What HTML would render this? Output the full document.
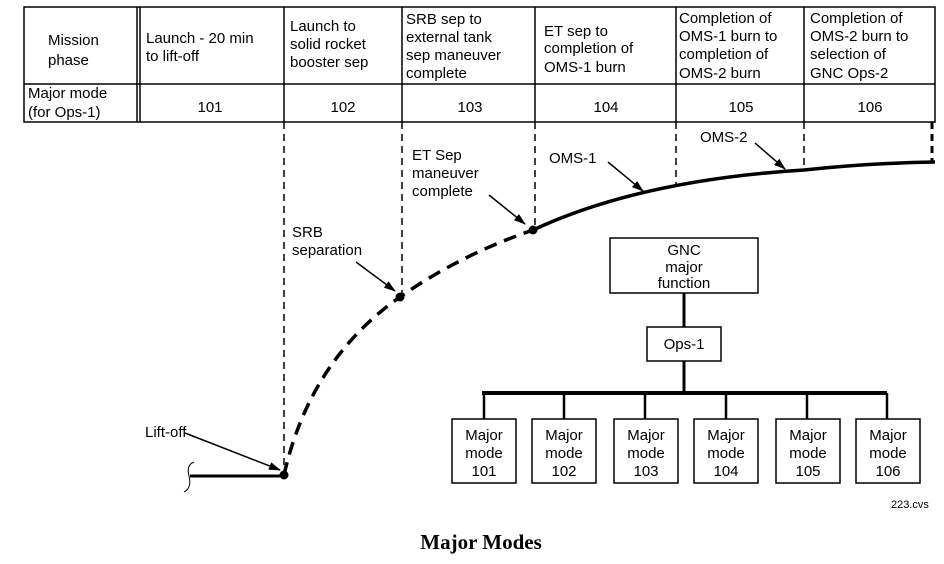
<!DOCTYPE html>
<html><head><style>
body{margin:0;background:#fff;}
svg text{font-family:"Liberation Sans",Arial,sans-serif;font-size:15px;fill:#000;}
</style></head><body>
<svg width="944" height="559" viewBox="0 0 944 559" xmlns="http://www.w3.org/2000/svg">
<defs>
<marker id="ah" markerWidth="12" markerHeight="8" refX="11" refY="4" orient="auto" markerUnits="userSpaceOnUse">
<path d="M0,0 L12,4 L0,8 z" fill="#000"/></marker>
</defs>
<g stroke="#000" stroke-width="1.5" fill="none">
<rect x="24" y="7" width="911" height="115"/>
<line x1="24" y1="84" x2="935" y2="84"/>
<line x1="137" y1="7" x2="137" y2="122"/>
<line x1="140" y1="7" x2="140" y2="122"/>
<line x1="284" y1="7" x2="284" y2="122"/>
<line x1="402" y1="7" x2="402" y2="122"/>
<line x1="535" y1="7" x2="535" y2="122"/>
<line x1="676" y1="7" x2="676" y2="122"/>
<line x1="804" y1="7" x2="804" y2="122"/>
</g>
<g font-size="15">
<text x="48" y="45">Mission</text><text x="48" y="65">phase</text>
<text x="146" y="43">Launch - 20 min</text><text x="146" y="61">to lift-off</text>
<text x="290" y="31">Launch to</text><text x="290" y="49">solid rocket</text><text x="290" y="67">booster sep</text>
<text x="406" y="24">SRB sep to</text><text x="406" y="42">external tank</text><text x="406" y="60">sep maneuver</text><text x="406" y="78">complete</text>
<text x="544" y="36">ET sep to</text><text x="544" y="53">completion of</text><text x="544" y="72">OMS-1 burn</text>
<text x="679" y="23">Completion of</text><text x="679" y="41">OMS-1 burn to</text><text x="679" y="59">completion of</text><text x="679" y="78">OMS-2 burn</text>
<text x="810" y="23">Completion of</text><text x="810" y="41">OMS-2 burn to</text><text x="810" y="59">selection of</text><text x="810" y="78">GNC  Ops-2</text>
<text x="28" y="98">Major mode</text><text x="28" y="117">(for Ops-1)</text>
<text x="210" y="112" text-anchor="middle">101</text>
<text x="343" y="112" text-anchor="middle">102</text>
<text x="470" y="112" text-anchor="middle">103</text>
<text x="606" y="112" text-anchor="middle">104</text>
<text x="741" y="112" text-anchor="middle">105</text>
<text x="870" y="112" text-anchor="middle">106</text>
</g>
<g stroke="#000" stroke-width="1.5" stroke-dasharray="7,5" fill="none">
<line x1="284" y1="122" x2="284" y2="470"/>
<line x1="402" y1="122" x2="402" y2="296"/>
<line x1="535" y1="122" x2="535" y2="229"/>
<line x1="676" y1="122" x2="676" y2="187"/>
<line x1="804" y1="122" x2="804" y2="170"/>
</g>
<line x1="932" y1="122" x2="932" y2="162" stroke="#000" stroke-width="3" stroke-dasharray="7,5"/>
<path d="M284,475 Q310,360 400,297 Q460,255 533,230" stroke="#000" stroke-width="3.5" fill="none" stroke-dasharray="13,8"/>
<path d="M533,230 Q640,180 804,170 Q870,163 935,162" stroke="#000" stroke-width="3.5" fill="none"/>
<line x1="190" y1="476" x2="284" y2="476" stroke="#000" stroke-width="3"/>
<path d="M194,462 Q186,465 189,476 Q192,488 184,492" stroke="#000" stroke-width="1" fill="none"/>
<g fill="#000"><circle cx="284" cy="475" r="4.5"/><circle cx="400" cy="297" r="4.5"/><circle cx="533" cy="230" r="4.5"/></g>
<g stroke="#000" stroke-width="1.5" marker-end="url(#ah)">
<line x1="185" y1="433" x2="280" y2="470"/>
<line x1="356" y1="262" x2="395" y2="291"/>
<line x1="489" y1="195" x2="525" y2="224"/>
<line x1="608" y1="162" x2="643" y2="191"/>
<line x1="755" y1="143" x2="785" y2="169"/>
</g>
<text x="145" y="437">Lift-off</text>
<text x="292" y="237">SRB</text><text x="292" y="255">separation</text>
<text x="412" y="160">ET Sep</text><text x="412" y="178">maneuver</text><text x="412" y="196">complete</text>
<text x="549" y="163">OMS-1</text>
<text x="700" y="142">OMS-2</text>
<g stroke="#000" stroke-width="1.5" fill="#fff">
<rect x="610" y="238" width="148" height="55"/>
<rect x="647" y="327" width="74" height="34"/>
<rect x="452" y="419" width="64" height="64"/>
<rect x="532" y="419" width="64" height="64"/>
<rect x="614" y="419" width="64" height="64"/>
<rect x="694" y="419" width="64" height="64"/>
<rect x="776" y="419" width="64" height="64"/>
<rect x="856" y="419" width="64" height="64"/>
</g>
<g stroke="#000" stroke-width="3">
<line x1="684" y1="293" x2="684" y2="327"/>
<line x1="684" y1="361" x2="684" y2="393"/>
<line x1="482" y1="393" x2="887" y2="393" stroke-width="4"/>
</g>
<g stroke="#000" stroke-width="2.5">
<line x1="484" y1="393" x2="484" y2="419"/>
<line x1="564" y1="393" x2="564" y2="419"/>
<line x1="645" y1="393" x2="645" y2="419"/>
<line x1="726" y1="393" x2="726" y2="419"/>
<line x1="807" y1="393" x2="807" y2="419"/>
<line x1="887" y1="393" x2="887" y2="419"/>
</g>
<g text-anchor="middle">
<text x="684" y="255">GNC</text><text x="684" y="272">major</text><text x="684" y="288">function</text>
<text x="684" y="349">Ops-1</text>
<text x="484" y="440">Major</text><text x="484" y="458">mode</text><text x="484" y="476">101</text>
<text x="564" y="440">Major</text><text x="564" y="458">mode</text><text x="564" y="476">102</text>
<text x="646" y="440">Major</text><text x="646" y="458">mode</text><text x="646" y="476">103</text>
<text x="726" y="440">Major</text><text x="726" y="458">mode</text><text x="726" y="476">104</text>
<text x="808" y="440">Major</text><text x="808" y="458">mode</text><text x="808" y="476">105</text>
<text x="888" y="440">Major</text><text x="888" y="458">mode</text><text x="888" y="476">106</text>
</g>
<text x="891" y="508" style="font-size:11px">223.cvs</text>
<text x="481" y="549" text-anchor="middle" style="font-family:'Liberation Serif',serif;font-size:21px;font-weight:bold">Major Modes</text>
</svg>
</body></html>
